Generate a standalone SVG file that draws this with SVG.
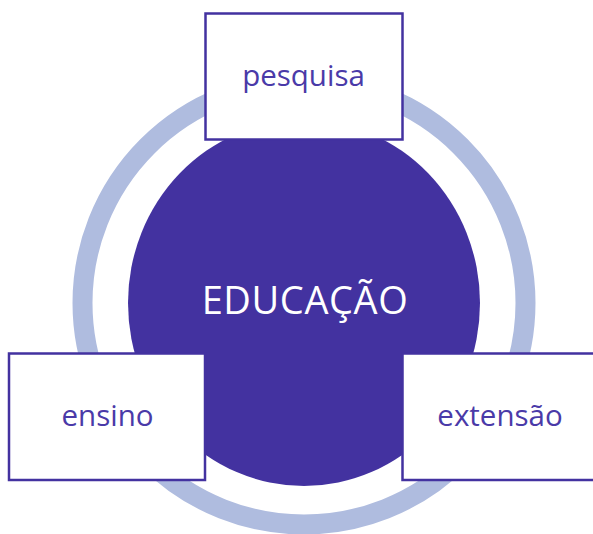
<svg xmlns="http://www.w3.org/2000/svg" width="593" height="534" viewBox="0 0 593 534">
  <style>
    .box { fill: #ffffff; stroke: #4332a0; stroke-width: 2.5; }
    .label { font-family: "Open Sans", "Liberation Sans", sans-serif; font-size: 29.5px; fill: #4a3aa8; text-anchor: middle; }
    .center { font-family: "Open Sans", "Liberation Sans", sans-serif; font-size: 38px; font-weight: 500; letter-spacing: 0.6px; fill: #ffffff; text-anchor: middle; }
  </style>
  <rect width="593" height="534" fill="#ffffff"/>
  <g id="connectors">
    <circle cx="304" cy="303" r="221.5" fill="none" stroke="#afbcdf" stroke-width="20"/>
  </g>
  <g id="educacao">
    <ellipse cx="304" cy="303" rx="176" ry="183" fill="#4332a0"/>
    <text class="center" x="305" y="314">EDUCAÇÃO</text>
  </g>
  <g id="pesquisa">
    <rect class="box" x="205.5" y="13.5" width="197" height="126"/>
    <text class="label" x="303.5" y="86">pesquisa</text>
  </g>
  <g id="ensino">
    <rect class="box" x="9" y="353.5" width="196" height="126.5"/>
    <text class="label" x="107.5" y="426">ensino</text>
  </g>
  <g id="extensao">
    <rect class="box" x="402.5" y="353.5" width="197" height="126.5"/>
    <text class="label" x="500" y="426">extensão</text>
  </g>
</svg>
